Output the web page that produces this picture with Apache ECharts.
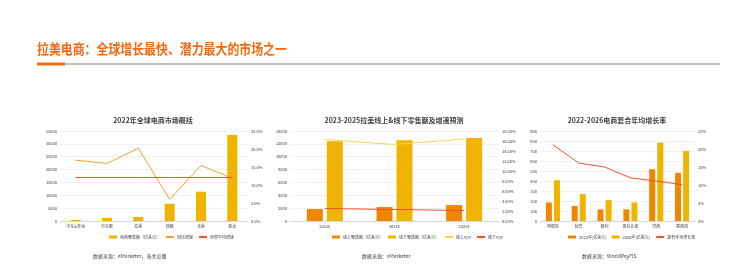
<!DOCTYPE html>
<html lang="zh" style="height: 100%">
<head>
    <meta charset="utf-8">
    <title>拉美电商</title>
    <style type="text/css">
        html, body { margin: 0; height: 100%; background: #fff; }
        #main { width: 738px; height: 277px; }
    </style>
    <script src="https://cdn.jsdelivr.net/npm/echarts@6/dist/echarts.min.js"></script>
</head>
<body>
<div id="main"></div>
<script type="text/javascript">
    // 图1：2022年全球电商市场概括
    const regions = ['中东&非洲', '中东欧', '拉美', '西欧', '北美', '亚太'];
    const regionSales = [400, 1200, 1600, 6700, 11400, 33400];
    const regionGrowth = [16.9, 16.0, 20.2, 6.0, 15.4, 11.9];
    const worldGrowth = [12.1, 12.1, 12.1, 12.1, 12.1, 12.1];

    // 图2：2023-2025拉美线上&线下零售额及增速预测
    const years = ['2023E', '2024E', '2025E'];
    const onlineSales = [1860, 2170, 2480];
    const offlineSales = [12400, 12550, 12900];
    const onlineYoy = [16.3, 15.3, 16.4];
    const offlineYoy = [2.5, 2.3, 2.1];

    // 图3：2022-2026电商复合年均增长率
    const countries = ['阿根廷', '秘鲁', '智利', '哥伦比亚', '巴西', '墨西哥'];
    const sales2022 = [185, 150, 116, 116, 518, 482];
    const sales2026 = [408, 269, 209, 186, 784, 701];
    const cagr = [21.2, 16.1, 15.0, 12.0, 11.1, 10.1];

    const FONT = '"Noto Sans CJK SC", "Noto Sans", sans-serif';
    const GOLD = '#F0B400';
    const ORANGE = '#F28500';
    const RED = '#F0502A';
    const MAIN = '#F26A10';

    var dom = document.getElementById('main');
    var myChart = echarts.init(dom, null, {renderer: 'canvas'});

    function valueAxis(gridIndex, position, max, interval, formatter, split) {
        return {
            type: 'value',
            gridIndex: gridIndex,
            position: position,
            min: 0,
            max: max,
            interval: interval,
            axisLine: {show: false},
            axisTick: {show: false},
            splitLine: {show: split, lineStyle: {color: '#e8e8e8', width: 0.6}},
            axisLabel: {
                fontSize: 4,
                margin: 3,
                color: '#404040',
                fontFamily: FONT,
                formatter: formatter || function (v) { return String(v); }
            }
        };
    }

    function catAxis(gridIndex, data) {
        return {
            type: 'category',
            gridIndex: gridIndex,
            data: data,
            axisLine: {lineStyle: {color: '#d0d0d0', width: 0.8}},
            axisTick: {show: false},
            axisLabel: {fontSize: 4, margin: 3, color: '#404040', fontFamily: FONT}
        };
    }

    // 柱子用方块图例，折线用线段图例
    function legend(left, bars, lines) {
        var data = bars.map(function (n) { return {name: n, icon: 'rect'}; }).concat(lines);
        return {
            left: left,
            top: 230,
            itemWidth: 8,
            itemHeight: 3,
            itemGap: 5,
            textStyle: {fontSize: 4, color: '#404040', fontFamily: FONT, padding: [0, 0, 0, -2]},
            data: data
        };
    }

    function titleText(x, text) {
        return {
            type: 'text', x: x, y: 120,
            style: {
                text: text, align: 'center', verticalAlign: 'middle',
                font: 'bold 7px ' + FONT, fill: '#404040'
            }
        };
    }

    function sourceText(x, text) {
        return {
            type: 'text', x: x, y: 256,
            style: {
                text: text, verticalAlign: 'middle',
                font: '5px ' + FONT, fill: '#404040'
            }
        };
    }

    function lineSeries(name, xi, yi, color, data) {
        return {
            name: name, type: 'line', xAxisIndex: xi, yAxisIndex: yi,
            showSymbol: false, symbol: 'none',
            lineStyle: {color: color, width: 1},
            itemStyle: {color: color}, data: data
        };
    }

    var option = {
        animation: false,
        textStyle: {fontFamily: FONT},
        grid: [
            {left: 60, right: 490, top: 131, bottom: 56},
            {left: 290, right: 239, top: 131, bottom: 56},
            {left: 540, right: 43, top: 131, bottom: 56}
        ],
        xAxis: [catAxis(0, regions), catAxis(1, years), catAxis(2, countries)],
        yAxis: [
            valueAxis(0, 'left', 35000, 5000, null, true),
            valueAxis(0, 'right', 25, 5, function (v) { return v.toFixed(1) + '%'; }, false),
            valueAxis(1, 'left', 14000, 2000, null, true),
            valueAxis(1, 'right', 18, 2, function (v) { return v.toFixed(2) + '%'; }, false),
            valueAxis(2, 'left', 900, 100, null, true),
            valueAxis(2, 'right', 25, 5, function (v) { return v + '%'; }, false)
        ],
        legend: [
            legend(104, ['电商零售额（亿美元）'], ['同比增速', '世界平均增速']),
            legend(327, ['线上零售额（亿美元）', '线下零售额（亿美元）'], ['线上YOY', '线下YOY']),
            legend(563, ['2022年(亿美元)', '2026年(亿美元)'], ['复合年均增长率'])
        ],
        series: [
            {
                name: '电商零售额（亿美元）', type: 'bar', xAxisIndex: 0, yAxisIndex: 0,
                barWidth: 10, itemStyle: {color: GOLD}, data: regionSales
            },
            lineSeries('同比增速', 0, 1, '#F5A030', regionGrowth),
            lineSeries('世界平均增速', 0, 1, RED, worldGrowth),
            {
                name: '线上零售额（亿美元）', type: 'bar', xAxisIndex: 1, yAxisIndex: 2,
                barWidth: 16, barGap: '25%', itemStyle: {color: ORANGE}, data: onlineSales
            },
            {
                name: '线下零售额（亿美元）', type: 'bar', xAxisIndex: 1, yAxisIndex: 2,
                barWidth: 16, barGap: '25%', itemStyle: {color: GOLD}, data: offlineSales
            },
            lineSeries('线上YOY', 1, 3, '#F5D555', onlineYoy),
            lineSeries('线下YOY', 1, 3, RED, offlineYoy),
            {
                name: '2022年(亿美元)', type: 'bar', xAxisIndex: 2, yAxisIndex: 4,
                barWidth: 6, barGap: '35%', itemStyle: {color: ORANGE}, data: sales2022
            },
            {
                name: '2026年(亿美元)', type: 'bar', xAxisIndex: 2, yAxisIndex: 4,
                barWidth: 6, barGap: '35%', itemStyle: {color: GOLD}, data: sales2026
            },
            lineSeries('复合年均增长率', 2, 5, RED, cagr)
        ],
        graphic: {
            elements: [
                {
                    type: 'text', x: 37, y: 49, scaleX: 0.85,
                    style: {
                        text: '拉美电商：全球增长最快、潜力最大的市场之一',
                        verticalAlign: 'middle',
                        font: 'bold 14px ' + FONT, fill: MAIN
                    }
                },
                {
                    type: 'rect', shape: {x: 37, y: 63, width: 683, height: 2},
                    style: {fill: '#c0c0c0'}
                },
                {
                    type: 'rect', shape: {x: 37, y: 62.5, width: 28, height: 3},
                    style: {fill: MAIN}
                },
                titleText(153, '2022年全球电商市场概括'),
                titleText(394, '2023-2025拉美线上&线下零售额及增速预测'),
                titleText(617, '2022-2026电商复合年均增长率'),
                sourceText(93, '数据来源：eMarketer，海关总署'),
                sourceText(362, '数据来源：eMarketer'),
                sourceText(582, '数据来源：WorldPayFIS')
            ]
        }
    };

    myChart.setOption(option);
    window.addEventListener('resize', myChart.resize);
</script>
</body>
</html>
